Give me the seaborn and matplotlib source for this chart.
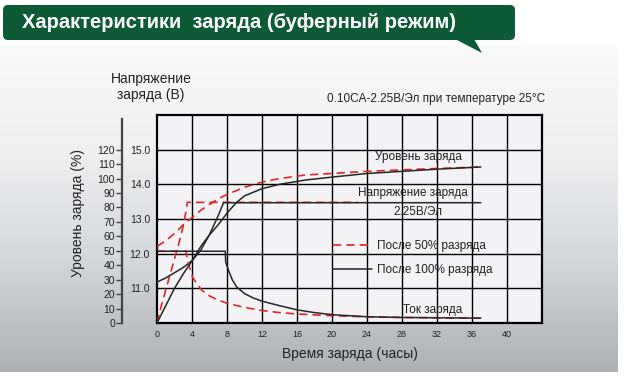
import numpy as np
import matplotlib
matplotlib.use("Agg")
import matplotlib.pyplot as plt
from matplotlib.patches import FancyBboxPatch, Polygon
import seaborn as sns

# charge level (%)
lvl50_h = [0, 1, 2, 3, 4, 5, 6, 7, 8, 10, 12, 14, 17, 20, 24, 28, 32, 37]
lvl50 = [53, 57, 62, 68, 73, 78, 82, 86, 89, 94, 97.5, 100, 102.5, 103.5, 105, 106, 107, 108]
lvl100_h = [0, 1, 2, 3, 4, 5, 6, 7, 8, 9, 10, 12, 14, 17, 20, 24, 28, 32, 37]
lvl100 = [0, 12, 24, 34, 43, 53, 61, 68, 76, 83, 88, 93, 96, 99, 101, 103.5, 105, 106.5, 108]

# charge voltage (V)
volt50_h = [0, 0.5, 1, 1.5, 2, 2.5, 3, 3.3, 3.45, 23]
volt50 = [10.0, 10.5, 10.95, 11.4, 11.85, 12.3, 12.8, 13.2, 13.48, 13.48]
volt100_h = [0, 1, 2, 3, 4, 5, 6, 7, 7.6, 37]
volt100 = [11.18, 11.3, 11.45, 11.6, 11.8, 12.1, 12.55, 13.1, 13.47, 13.47]

# charge current, as read on the voltage grid
cur50_h = [0, 3.3, 3.6, 4.1, 5.1, 6, 7, 8, 10, 12, 14, 16, 20, 24, 28, 32, 37]
cur50 = [12.07, 12.07, 11.7, 11.3, 10.95, 10.78, 10.66, 10.57, 10.45, 10.36, 10.3,
         10.26, 10.21, 10.18, 10.16, 10.15, 10.14]
cur100_h = [0, 7.8, 7.85, 8.2, 8.6, 9.1, 10, 11, 12, 14, 16, 18, 20, 24, 28, 32, 37]
cur100 = [12.07, 12.07, 11.76, 11.5, 11.25, 11.04, 10.85, 10.72, 10.63, 10.5, 10.38,
          10.3, 10.24, 10.18, 10.16, 10.15, 10.14]

x_ticks = list(range(0, 41, 4))
v_ticks = [11.0, 12.0, 13.0, 14.0, 15.0]
pct_ticks = list(range(0, 121, 10))

RED = "#e0262c"
BLACK = "#262626"
GREEN = "#0d5b36"

sns.set_theme(style="white")
plt.rcParams["font.family"] = ["Liberation Sans", "DejaVu Sans"]

fig = plt.figure(figsize=(6.27, 3.83), dpi=100)
fig.patch.set_facecolor("white")

# background panel + header banner, in pixel coords
bg = fig.add_axes([0, 0, 1, 1], zorder=-5)
bg.set_xlim(0, 627)
bg.set_ylim(383, 0)
bg.axis("off")
grad = np.linspace(0, 1, 256).reshape(-1, 1)
cmap = matplotlib.colors.LinearSegmentedColormap.from_list(
    "panel", ["#fafafa", "#efeff0", "#d5d6d8", "#aeb0b4"])
bg.imshow(grad, cmap=cmap, aspect="auto", extent=[0, 618, 372, 45], zorder=0)
bg.add_patch(FancyBboxPatch((3, 5), 512, 35, boxstyle="round,pad=0,rounding_size=5",
                            facecolor=GREEN, edgecolor="none", zorder=2))
bg.add_patch(Polygon([(455, 39), (474, 39), (482, 53)], closed=True,
                     facecolor=GREEN, edgecolor="none", zorder=2))
bg.text(22, 23, "Характеристики  заряда (буферный режим)", color="white",
        fontsize=14.5, fontweight="bold", va="center", ha="left", zorder=3)

ax = fig.add_axes([157 / 627, 1 - 323 / 383, 385 / 627, 208 / 383])
ax.set_facecolor("#f3f3f5")
ax.set_xlim(0, 44)
ax.set_ylim(10, 16)

# grid
for v in v_ticks:
    ax.axhline(v, color="black", lw=1.0, zorder=1)
for h in list(range(4, 44, 4)):
    ax.axvline(h, color="black", lw=1.0, zorder=1)

dash = (5, 3)
sns.lineplot(x=volt50_h, y=volt50, ax=ax, color=RED, lw=1.2, sort=False,
             estimator=None, zorder=3, label="После 50% разряда")
ax.lines[-1].set_dashes(dash)
sns.lineplot(x=volt100_h, y=volt100, ax=ax, color=BLACK, lw=1.1, sort=False,
             estimator=None, zorder=3, label="После 100% разряда")
sns.lineplot(x=cur50_h, y=cur50, ax=ax, color=RED, lw=1.2, sort=False,
             estimator=None, zorder=3)
ax.lines[-1].set_dashes(dash)
sns.lineplot(x=cur100_h, y=cur100, ax=ax, color=BLACK, lw=1.1, sort=False,
             estimator=None, zorder=3)

ax.set_xticks(x_ticks)
ax.set_xticklabels([str(t) for t in x_ticks], fontsize=6.5, color="#222")
ax.set_yticks(v_ticks)
ax.set_yticklabels([f"{v:.1f}" for v in v_ticks], fontsize=7.5, color="#222")
ax.tick_params(axis="both", length=0)
ax.tick_params(axis="x", pad=5)
ax.tick_params(axis="y", pad=5)
for s in ax.spines.values():
    s.set_visible(True)
    s.set_color("black")
    s.set_linewidth(1.6)
ax.set_xlabel("Время заряда (часы)", fontsize=10, color="#222", labelpad=6)
ax.set_ylabel("")

leg = ax.legend(loc="upper left", bbox_to_anchor=(0.43, 0.45), frameon=False,
                fontsize=8.5, handlelength=3.3, handletextpad=0.45, labelspacing=1.0)
for t in leg.get_texts():
    t.set_color("#222")

# charge level axis (%)
ax2 = ax.twinx()
ax2.set_ylim(0, 144)
sns.lineplot(x=lvl50_h, y=lvl50, ax=ax2, color=RED, lw=1.2, sort=False,
             estimator=None, zorder=3)
ax2.lines[-1].set_dashes(dash)
sns.lineplot(x=lvl100_h, y=lvl100, ax=ax2, color=BLACK, lw=1.1, sort=False,
             estimator=None, zorder=3)
ax2.yaxis.tick_left()
ax2.yaxis.set_label_position("left")
for side in ["top", "right", "bottom"]:
    ax2.spines[side].set_visible(False)
ax2.spines["left"].set_visible(True)
ax2.spines["left"].set_position(("axes", -35 / 385))
ax2.spines["left"].set_color("#444")
ax2.spines["left"].set_linewidth(1.6)
ax2.spines["left"].set_bounds(0, 141)
ax2.set_yticks(pct_ticks)
ax2.set_yticklabels([str(p) for p in pct_ticks], fontsize=7.5, color="#222")
ax2.tick_params(axis="y", length=4, width=1, color="#444", pad=1, direction="out")
ax2.set_ylabel("Уровень заряда (%)", fontsize=10, color="#222")
ax2.yaxis.set_label_coords(-72 / 385, 0.53)

# annotations
ax.text(29.9, 14.8, "Уровень заряда", fontsize=8.5, ha="center", va="center", color="#222")
ax.text(29.2, 13.75, "Напряжение заряда", fontsize=8.5, ha="center", va="center", color="#222")
ax.text(29.8, 13.2, "2.25В/Эл", fontsize=8.5, ha="center", va="center", color="#222")
ax.text(31.5, 10.37, "Ток заряда", fontsize=8.5, ha="center", va="center", color="#222")

fig.text(151 / 627, 1 - 87 / 383, "Напряжение\nзаряда (В)", fontsize=10, ha="center",
         va="center", color="#222", linespacing=1.25)
fig.text(545 / 627, 1 - 99 / 383, "0.10CA-2.25В/Эл при температуре 25°C", fontsize=8.5,
         ha="right", va="center", color="#222")

fig.savefig("out.png", dpi=100)
